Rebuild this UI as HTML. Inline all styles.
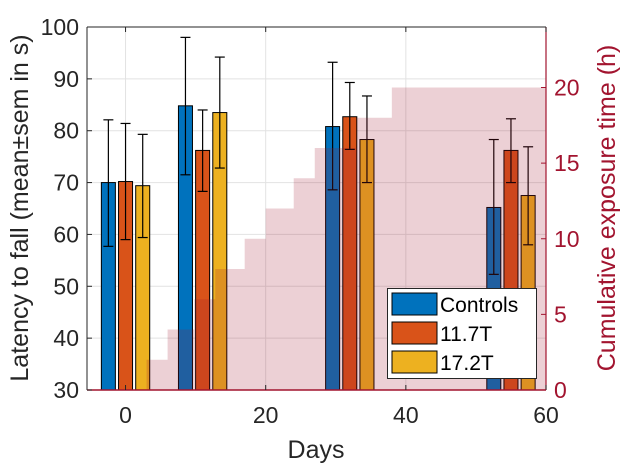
<!DOCTYPE html>
<html><head><meta charset="utf-8"><style>
body{margin:0;background:#fff;}
svg{display:block;font-family:"Liberation Sans",Arial,sans-serif;}
</style></head><body>
<svg id="c" width="625" height="465" viewBox="0 0 625 465"></svg>
<script>
const groupDays = [0, 11, 32, 55];
const seriesNames = ["Controls", "11.7T", "17.2T"];
const controlsMean = [70, 84.8, 80.8, 65.2];
const controlsHi = [82.1, 98, 93.2, 78.3];
const controlsLo = [57.7, 71.5, 68.6, 52.3];
const t117Mean = [70.2, 76.2, 82.7, 76.2];
const t117Hi = [81.4, 84, 89.3, 82.3];
const t117Lo = [59, 68.3, 76.4, 70];
const t172Mean = [69.4, 83.5, 78.3, 67.5];
const t172Hi = [79.3, 94.2, 86.7, 76.9];
const t172Lo = [59.4, 72.8, 70, 58];
const stepDays = [3, 6, 9.8, 12.8, 17, 20, 24, 27, 33, 38, 60];
const stepHours = [2, 4, 6, 8, 10, 12, 14, 16, 18, 20, 20];
const xTicks = [0, 20, 40, 60];
const yTicks = [30, 40, 50, 60, 70, 80, 90, 100];
const y2Ticks = [0, 5, 10, 15, 20];

const L=87,R=546,T=27,B=390;
const X=d=>L+(d+5.5)/65.5*(R-L);
const Y=v=>B-(v-30)/70*(B-T);
const Y2=h=>B-h/24*(B-T);
const colors=["#0072BD","#D95319","#EDB120"];
const crim="#A2142F";
const svg=document.getElementById('c');
const NS="http://www.w3.org/2000/svg";
function mk(tag,attrs,parent){const e=document.createElementNS(NS,tag);for(const k in attrs)e.setAttribute(k,attrs[k]);(parent||svg).appendChild(e);return e;}

const grid=mk('g',{});


xTicks.forEach(t=>mk('line',{x1:X(t),x2:X(t),y1:T,y2:B,stroke:"#e2e2e2","stroke-width":1},grid));
yTicks.forEach(t=>mk('line',{x1:L,x2:R,y1:Y(t),y2:Y(t),stroke:"#e2e2e2","stroke-width":1},grid));

const means=[controlsMean,t117Mean,t172Mean],his=[controlsHi,t117Hi,t172Hi],los=[controlsLo,t117Lo,t172Lo];
const off=[-2.45,0,2.45],bw=2;
groupDays.forEach((g,gi)=>{
  for(let s=0;s<3;s++){
    const x0=X(g+off[s]-bw/2),x1=X(g+off[s]+bw/2);
    const r=mk('rect',{x:x0,y:Y(means[s][gi]),width:x1-x0,height:B-Y(means[s][gi]),fill:colors[s],stroke:"#000","stroke-width":1});
    
    
    const cx=X(g+off[s]);
    const eb=mk('g',{stroke:"#000","stroke-width":1.2});
    
    
    mk('line',{x1:cx,x2:cx,y1:Y(his[s][gi]),y2:Y(los[s][gi])},eb);
    mk('line',{x1:cx-5,x2:cx+5,y1:Y(his[s][gi]),y2:Y(his[s][gi])},eb);
    mk('line',{x1:cx-5,x2:cx+5,y1:Y(los[s][gi]),y2:Y(los[s][gi])},eb);
  }
});

let d="M"+X(stepDays[0])+","+B;
for(let i=0;i<stepDays.length-1;i++){
  d+=" L"+X(stepDays[i])+","+Y2(stepHours[i])+" L"+X(stepDays[i+1])+","+Y2(stepHours[i]);
}
d+=" L"+X(stepDays[stepDays.length-1])+","+B+" Z";
const area=mk('path',{d:d,fill:crim,"fill-opacity":0.2,stroke:"none"});



const ax=mk('g',{});


mk('line',{x1:L,x2:R,y1:T,y2:T,stroke:"#262626"},ax);
mk('line',{x1:L,x2:L,y1:T,y2:B,stroke:"#262626"},ax);
mk('line',{x1:R,x2:R,y1:T,y2:B,stroke:crim,"stroke-width":1.2},ax);
mk('line',{x1:L,x2:R,y1:B,y2:B,stroke:crim,"stroke-width":1.5},ax);
xTicks.forEach(t=>{
  mk('line',{x1:X(t),x2:X(t),y1:B,y2:B-5,stroke:"#262626"},ax);
  mk('line',{x1:X(t),x2:X(t),y1:T,y2:T+5,stroke:"#262626"},ax);
  const tx=mk('text',{x:X(t),y:B+33,"font-size":23,"text-anchor":"middle",fill:"#262626"});
  tx.textContent=t;
  
  
});
yTicks.forEach(t=>{
  mk('line',{x1:L,x2:L+5,y1:Y(t),y2:Y(t),stroke:"#262626"},ax);
  const tx=mk('text',{x:L-8,y:Y(t)+8,"font-size":23,"text-anchor":"end",fill:"#262626"});
  tx.textContent=t;
  
  
});
y2Ticks.forEach(t=>{
  mk('line',{x1:R,x2:R-5,y1:Y2(t),y2:Y2(t),stroke:crim},ax);
  const tx=mk('text',{x:R+8,y:Y2(t)+8,"font-size":23,"text-anchor":"start",fill:crim});
  tx.textContent=t;
  
  
});
</script>
<svg width="625" height="465" style="position:absolute;left:0;top:0;font-family:'Liberation Sans',Arial,sans-serif">
<text x="316" y="458" font-size="25" text-anchor="middle" fill="#262626">Days</text>
<text transform="translate(28,208) rotate(-90)" font-size="25" text-anchor="middle" fill="#262626">Latency to fall (mean±sem in s)</text>
<text transform="translate(615,208) rotate(-90)" font-size="25" text-anchor="middle" fill="#A2142F">Cumulative exposure time (h)</text>
<g>
<rect x="387.5" y="288.5" width="149" height="90" fill="#fff" stroke="#262626"/>
<g><rect x="392" y="293" width="45" height="22" fill="#0072BD" stroke="#000"/><text x="440" y="312" font-size="21" fill="#000">Controls</text></g>
<g><rect x="392" y="322" width="45" height="22" fill="#D95319" stroke="#000"/><text x="440" y="341" font-size="21" fill="#000">11.7T</text></g>
<g><rect x="392" y="351" width="45" height="22" fill="#EDB120" stroke="#000"/><text x="440" y="370" font-size="21" fill="#000">17.2T</text></g>
</g>
</svg>
</body></html>
